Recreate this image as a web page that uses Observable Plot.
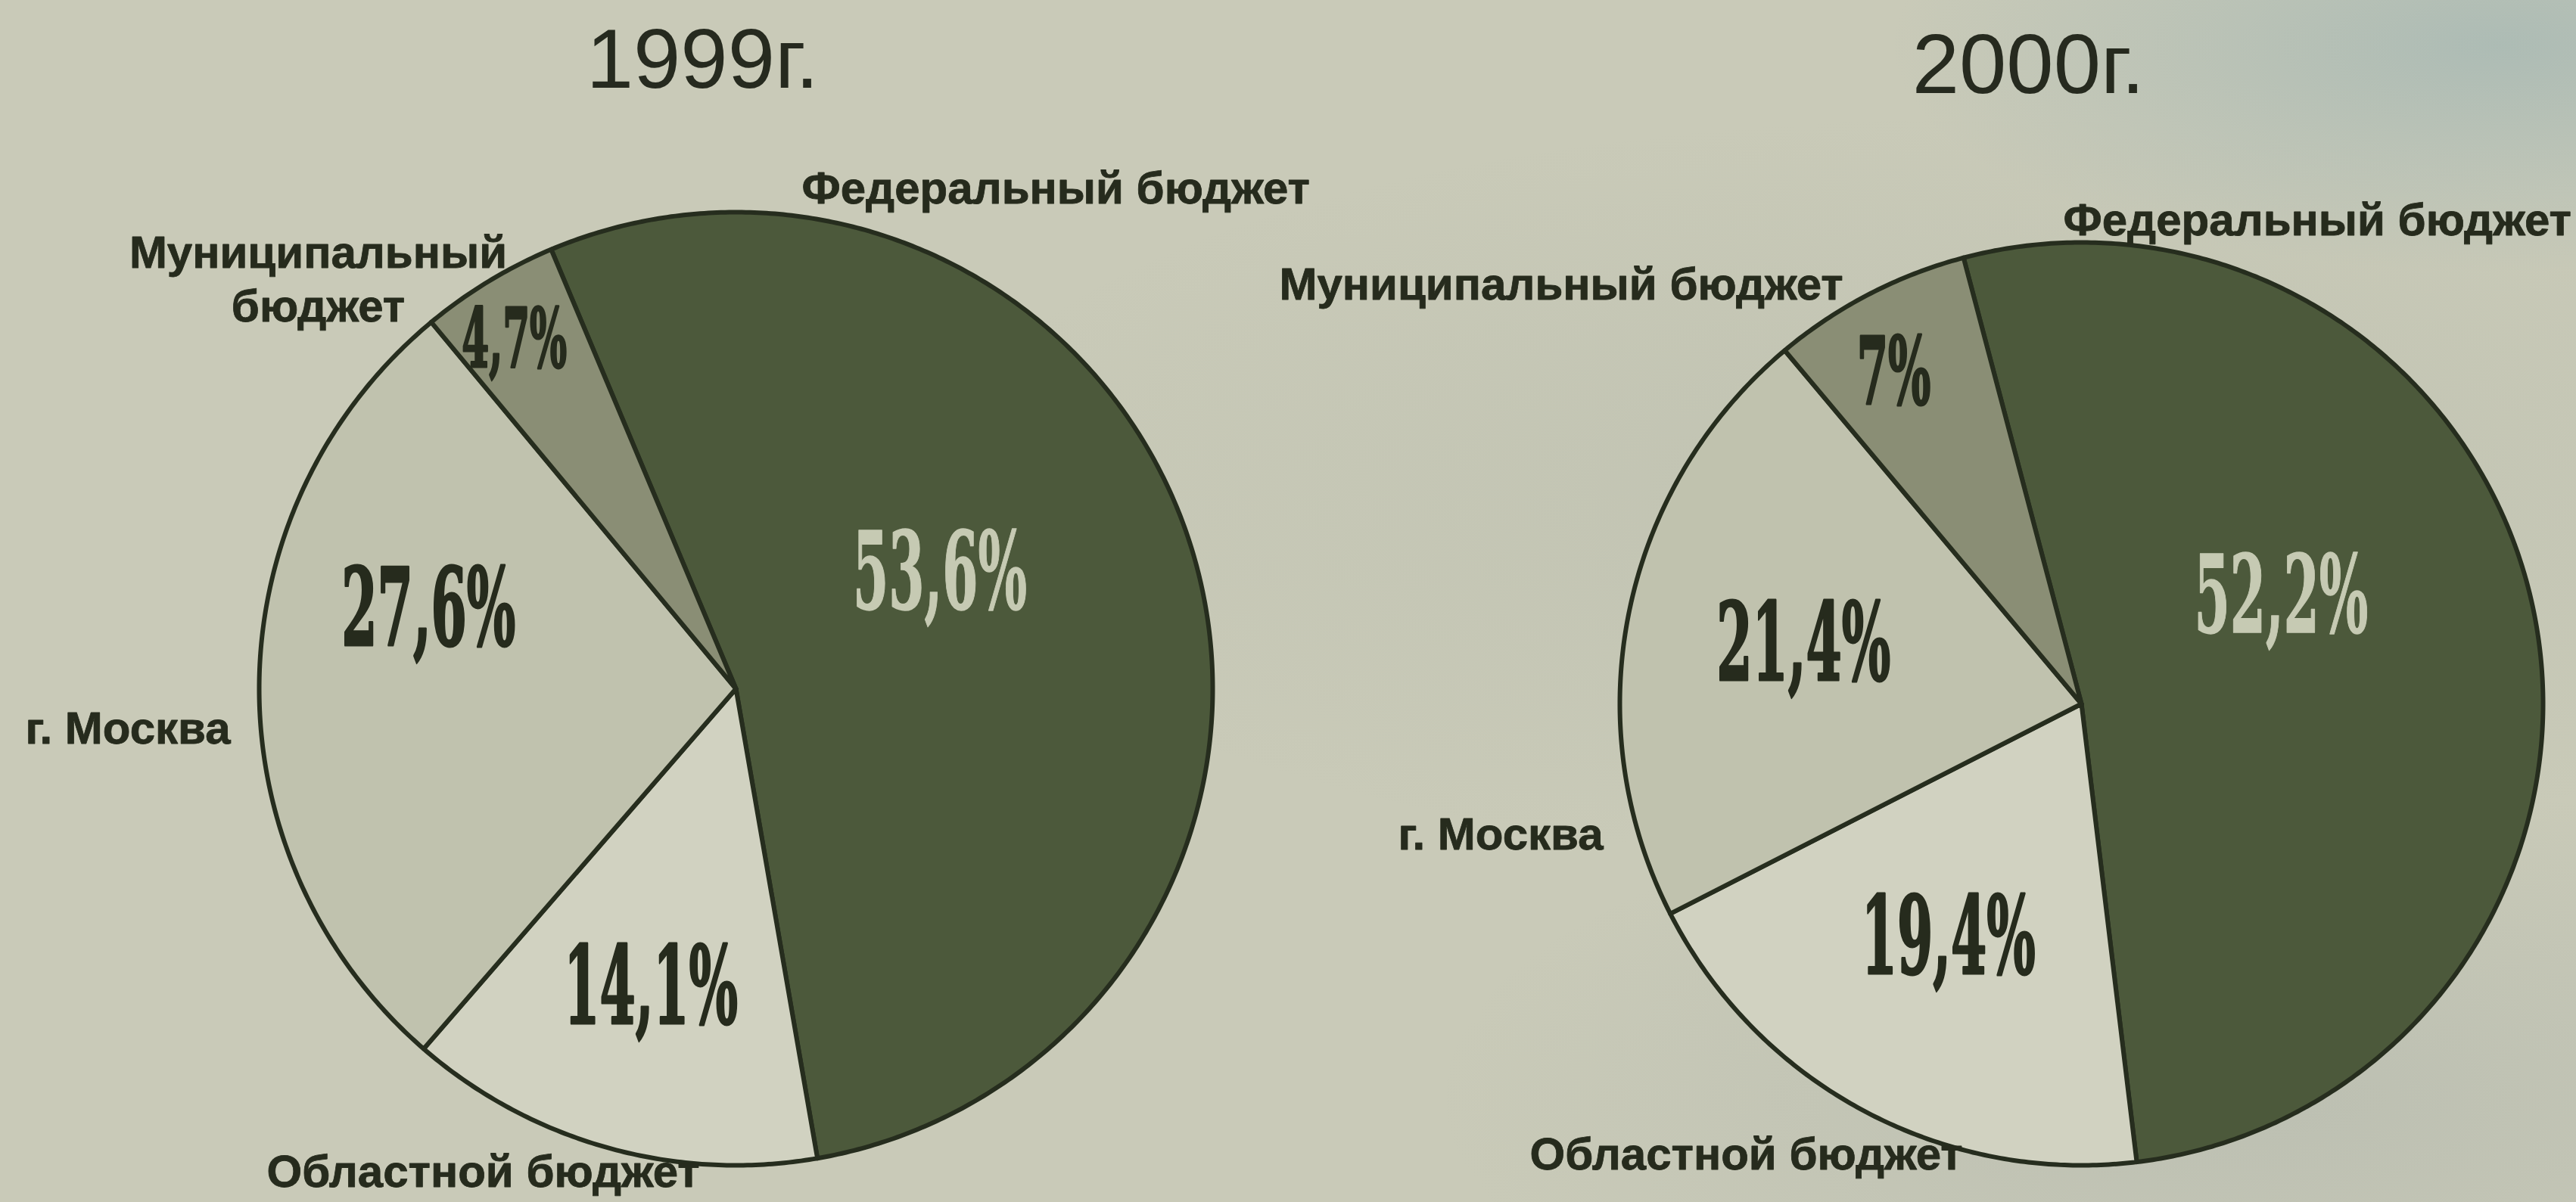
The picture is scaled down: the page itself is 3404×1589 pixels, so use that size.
<!DOCTYPE html>
<html>
<head>
<meta charset="utf-8">
<script src="https://cdn.jsdelivr.net/npm/d3@7"></script>
<script src="https://cdn.jsdelivr.net/npm/@observablehq/plot@0.6"></script>
<style>
  html, body { margin: 0; padding: 0; width: 3404px; height: 1589px; overflow: hidden; }
  body {
    background:
      radial-gradient(ellipse 800px 300px at 3300px 60px, rgba(150,176,178,0.55), rgba(150,176,178,0) 100%),
      radial-gradient(ellipse 1100px 420px at 3000px 1450px, rgba(150,160,160,0.25), rgba(150,160,160,0) 100%),
      radial-gradient(ellipse 1400px 500px at 2600px 650px, rgba(140,150,140,0.14), rgba(140,150,140,0) 100%),
      #c9cab8;
  }
  #chart svg { display: block; }
</style>
</head>
<body>
<div id="chart"></div>
<script>
// ---------------- data ----------------
const years = ["1999г.", "2000г."];
const categories = ["Федеральный бюджет", "Областной бюджет", "г. Москва", "Муниципальный бюджет"];
const values1999 = [53.6, 14.1, 27.6, 4.7];
const values2000 = [52.2, 19.4, 21.4, 7];
const labels1999 = ["Федеральный бюджет", "Областной бюджет", "г. Москва", "Муниципальный\nбюджет"];
const labels2000 = ["Федеральный бюджет", "Областной бюджет", "г. Москва", "Муниципальный бюджет"];

// ---------------- styles / layout ----------------
const W = 3404, H = 1589;
const sliceColors = ["#4c593b", "#d1d2c1", "#c0c2ae", "#8a8e75"];
const outline = "#262d1e";
const darkText = "#262b1d";
const lightText = "#c6cab3";

const layout = {
  "1999г.": {
    cx: 972, cy: 910, r: 630, start: -22.8,
    title: { x: 928, y: 115 },
    pct: [[60.8, 0.49], [195.8, 0.655], [284.2, 0.665], [327.5, 0.865]],
    pctSize: [142, 142, 142, 108],
    cat: [
      { x: 1059, y: 268, anchor: "start" },
      { x: 352, y: 1568, anchor: "start" },
      { x: 33, y: 982, anchor: "start" },
      { x: 420, y: 424, anchor: "middle" }
    ]
  },
  "2000г.": {
    cx: 2750, cy: 930, r: 610, start: -14.8,
    title: { x: 2680, y: 122 },
    pct: [[62.0, 0.49], [209.5, 0.585], [281.8, 0.615], [330.4, 0.823]],
    pctSize: [142, 142, 142, 124],
    cat: [
      { x: 2726, y: 310, anchor: "start" },
      { x: 2021, y: 1545, anchor: "start" },
      { x: 1847, y: 1122, anchor: "start" },
      { x: 1690, y: 395, anchor: "start" }
    ]
  }
};

const seriesValues = { "1999г.": values1999, "2000г.": values2000 };
const seriesLabels = { "1999г.": labels1999, "2000г.": labels2000 };
const fmt = v => String(v).replace(".", ",") + "%";
const rad = deg => deg * Math.PI / 180;

// slice outlines computed from the values with d3.pie
const slicePts = [];
const pctData = [];
const catData = [];
const titleData = [];
years.forEach(yr => {
  const L = layout[yr];
  const vals = seriesValues[yr];
  const arcs = d3.pie().sort(null)
    .startAngle(rad(L.start)).endAngle(rad(L.start) + 2 * Math.PI)(vals);
  arcs.forEach((a, i) => {
    const id = yr + "|" + i;
    const cat = categories[i];
    slicePts.push({ id, cat, x: L.cx, y: L.cy });
    const n = Math.max(4, Math.ceil((a.endAngle - a.startAngle) / (Math.PI / 360)));
    for (let k = 0; k <= n; k++) {
      const t = a.startAngle + (a.endAngle - a.startAngle) * k / n;
      slicePts.push({ id, cat, x: L.cx + L.r * Math.sin(t), y: L.cy - L.r * Math.cos(t) });
    }
    slicePts.push({ id, cat, x: L.cx, y: L.cy });

    const [ang, rf] = L.pct[i];
    pctData.push({
      x: L.cx + L.r * rf * Math.sin(rad(ang)),
      y: L.cy - L.r * rf * Math.cos(rad(ang)),
      text: fmt(vals[i]), size: L.pctSize[i], light: i === 0
    });
    const c = L.cat[i];
    catData.push({ x: c.x, y: c.y, anchor: c.anchor, text: seriesLabels[yr][i] });
  });
  titleData.push({ x: L.title.x, y: L.title.y, text: yr });
});

const catStart = catData.filter(d => d.anchor === "start");
const catMiddle = catData.filter(d => d.anchor === "middle");

const sansBold = { fontFamily: "'Liberation Sans', Arial, sans-serif", fontWeight: "bold", fontSize: 60, fill: darkText, stroke: darkText, strokeWidth: 0.8 };
const pctFont = "'DejaVu Serif Condensed', 'DejaVu Serif', serif";

const chart = Plot.plot({
  width: W,
  height: H,
  margin: 0,
  style: { background: "transparent", overflow: "visible" },
  x: { domain: [0, W], range: [0, W], axis: null },
  y: { domain: [0, H], range: [0, H], axis: null },
  color: { domain: categories, range: sliceColors },
  marks: [
    Plot.line(slicePts, {
      x: "x", y: "y", z: "id", fill: "cat",
      stroke: outline, strokeWidth: 6, strokeLinejoin: "round", curve: "linear"
    }),
    Plot.text(pctData.filter(d => !d.light), {
      x: "x", y: "y", text: "text", fontSize: "size",
      fontFamily: pctFont, fontWeight: "bold", fill: darkText, stroke: darkText, strokeWidth: 3,
      textAnchor: "middle", lineAnchor: "middle"
    }),
    Plot.text(pctData.filter(d => d.light), {
      x: "x", y: "y", text: "text", fontSize: "size",
      fontFamily: pctFont, fontWeight: "bold", fill: lightText, stroke: lightText, strokeWidth: 1.5,
      textAnchor: "middle", lineAnchor: "middle"
    }),
    Plot.text(catStart, {
      x: "x", y: "y", text: "text", textAnchor: "start", lineAnchor: "bottom", ...sansBold
    }),
    Plot.text(catMiddle, {
      x: "x", y: "y", text: "text", textAnchor: "middle", lineAnchor: "bottom", lineHeight: 1.18, ...sansBold
    }),
    Plot.text(titleData, {
      x: "x", y: "y", text: "text", textAnchor: "middle", lineAnchor: "bottom",
      fontFamily: "'Liberation Sans', Arial, sans-serif", fontSize: 112, fill: "#262a1f"
    })
  ]
});

document.getElementById("chart").appendChild(chart);

// condense the percentage figures horizontally (the original uses a condensed face)
const pctStrings = new Set(pctData.map(d => d.text));
const pctTexts = Array.from(chart.querySelectorAll("text")).filter(t => pctStrings.has(t.textContent.trim()));
let ref = pctTexts.find(t => t.textContent.trim() === fmt(values1999[0]));
const targetWidth = 230;
const s = ref ? Math.min(1, targetWidth / ref.getBBox().width) : 0.52;
pctTexts.forEach(t => {
  const tr = t.getAttribute("transform");
  if (tr) {
    t.setAttribute("transform", tr + ` scale(${s},1)`);
  } else {
    const x = +t.getAttribute("x") || 0, y = +t.getAttribute("y") || 0;
    t.setAttribute("transform", `translate(${x},${y}) scale(${s},1) translate(${-x},${-y})`);
  }
});
</script>
</body>
</html>
